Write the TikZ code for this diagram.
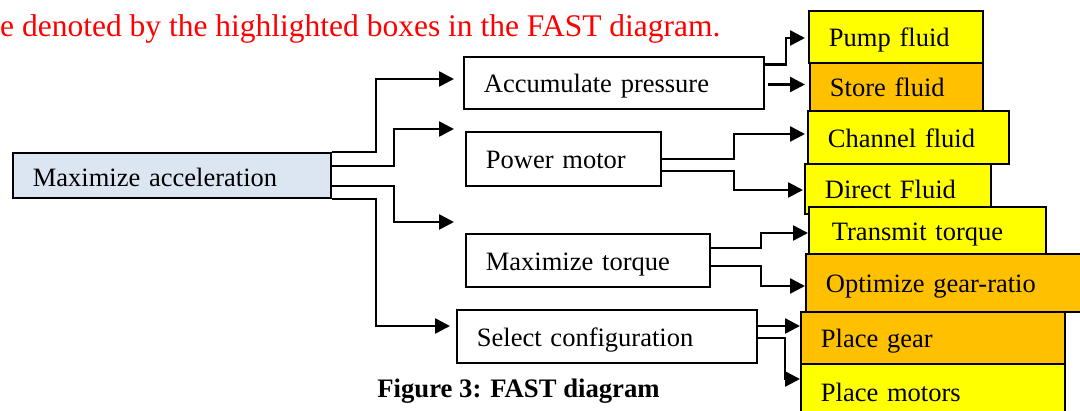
\documentclass[tikz,border=0pt]{standalone}
\usepackage{fontspec}
\setmainfont{Liberation Serif}
\usetikzlibrary{arrows.meta}
\definecolor{boxblue}{HTML}{DCE6F2}
\definecolor{boxyellow}{HTML}{FFFF00}
\definecolor{boxorange}{HTML}{FFC000}

\begin{document}
\begin{tikzpicture}[x=1pt, y=-1pt, >={Triangle[length=15pt, width=15pt]},
    fbox/.style={draw, line width=1.8pt, anchor=west, inner xsep=20pt, inner ysep=0pt, align=left, text height=20pt, text depth=0pt, font=\fontsize{26.5}{30}\selectfont},
    wire/.style={->, line width=2.6pt}]
    \useasboundingbox (0,0) rectangle (1080,411);
    \clip (0,0) rectangle (1080,411);

    % Note above the diagram
    \node[anchor=base west, inner sep=0pt, text=red, font=\fontsize{31.5}{36}\selectfont] (note) at (0,37) {e denoted by the highlighted boxes in the FAST diagram.};

    % Main function
    \node[fbox, fill=boxblue, text width=278pt, minimum height=45pt, text height=22pt] (accel) at (12,175.5) {Maximize acceleration};

    % Second level functions
    \node[fbox, text width=260pt, minimum height=52pt] (accum) at (463,83) {Accumulate pressure};
    \node[fbox, text width=155pt, minimum height=54pt] (power) at (465,159) {Power motor};
    \node[fbox, text width=204pt, minimum height=53pt] (torque) at (465,260.5) {Maximize torque};
    \node[fbox, text width=260pt, minimum height=53pt] (select) at (456,336.5) {Select configuration};
    \coordinate (gap) at (454,222);

    % Highlighted boxes
    \node[fbox, fill=boxyellow, text width=134pt, minimum height=52pt] (pump) at (808,37) {Pump fluid};
    \node[fbox, fill=boxorange, text width=133pt, minimum height=48pt] (store) at (809,87) {Store fluid};
    \node[fbox, fill=boxyellow, text width=161pt, minimum height=53pt] (channel) at (807,137.5) {Channel fluid};
    \node[fbox, fill=boxyellow, text width=146pt, minimum height=50pt] (direct) at (804,189) {Direct Fluid};
    \node[fbox, fill=boxyellow, inner xsep=23pt, text width=191pt, minimum height=47pt] (transmit) at (808,230.5) {Transmit torque};
    \node[fbox, fill=boxorange, text width=240pt, minimum height=58pt] (ratio) at (805,283) {Optimize gear-ratio};
    \node[fbox, fill=boxorange, text width=224pt, minimum height=52pt] (gear) at (800,338) {Place gear};
    \node[fbox, fill=boxyellow, text width=224pt, minimum height=56pt] (motors) at (800,392) {Place motors};

    % Main function to second level
    \draw[wire] (accel.north east) -- ++(44,0) |- ([shift={(-9,-4)}]accum.west);
    \draw[wire] ([yshift=9.5pt]accel.east) -- ++(62,0) |- ([shift={(-11,-30)}]power.west);
    \draw[wire] ([yshift=-10.5pt]accel.east) -- ++(62,0) |- (gap);
    \draw[wire] (accel.south east) -- ++(44,0) |- ([shift={(-6,-10.5)}]select.west);

    % Second level to highlighted boxes
    \draw[wire] ([yshift=18.5pt]accum.east) -- ++(21,0) |- ([shift={(-3,1)}]pump.west);
    \draw[wire] ([shift={(3,1.5)}]accum.east) -- ([shift={(-4,-2.5)}]store.west);
    \draw[wire] (power.east) -- ++(72,0) |- ([shift={(-2,-3.5)}]channel.west);
    \draw[wire] ([yshift=-12pt]power.east) -- ++(72,0) |- ([shift={(-1,1)}]direct.west);
    \draw[wire] ([yshift=12.5pt]torque.east) -- ++(50,0) |- ([shift={(0,2.5)}]transmit.west);
    \draw[wire] ([yshift=-5.5pt]torque.east) -- ++(50,0) |- ([shift={(0,3)}]ratio.west);
    \draw[wire] ([yshift=10.5pt]select.east) -- ([shift={(0,-12)}]gear.west);
    \draw[wire] ([yshift=-1.5pt]select.east) -- ++(27,0) |- ([shift={(0,-13)}]motors.west);

    % Caption
    \node[anchor=base, inner sep=0pt, font=\bfseries\fontsize{26.7}{30}\selectfont] (caption) at (518.5,398) {Figure 3: FAST diagram};
\end{tikzpicture}
\end{document}
